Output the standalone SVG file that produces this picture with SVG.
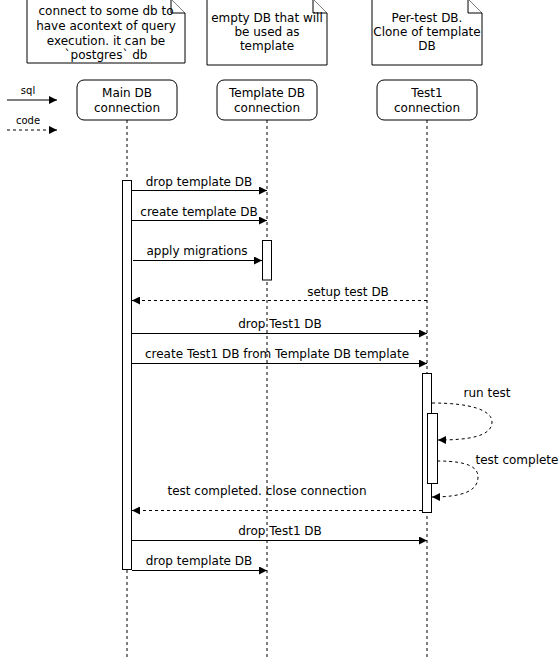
<svg xmlns="http://www.w3.org/2000/svg" width="560" height="661" viewBox="0 0 560 661">
  <style>
    text { font-family: "DejaVu Sans", Verdana, sans-serif; font-size: 12px; fill: #000; }
    .small { font-size: 10px; }
    .box { fill: #fff; stroke: #000; stroke-width: 1; }
    .life { stroke: #000; stroke-width: 1; stroke-dasharray: 3 3; fill: none; }
    .msg { stroke: #000; stroke-width: 1; fill: none; }
    .ret { stroke: #000; stroke-width: 1; fill: none; stroke-dasharray: 3 3; }
  </style>
  <defs>
    <marker id="head" viewBox="0 0 10 10" refX="10" refY="5" markerWidth="8" markerHeight="8" markerUnits="userSpaceOnUse" orient="auto">
      <path d="M0,0 L10,5 L0,10 Z" fill="#000"/>
    </marker>
  </defs>
  <rect width="560" height="661" fill="#fff"/>

  <!-- notes -->
  <g id="note-main">
    <path class="box" d="M27,-1 H171 L185,13 V63 H27 Z"/>
    <path class="box" d="M171,-1 V13 H185"/>
    <text x="106" y="15" text-anchor="middle">connect to some db to</text>
    <text x="106" y="30" text-anchor="middle">have acontext of query</text>
    <text x="106" y="45" text-anchor="middle">execution. it can be</text>
    <text x="106" y="59" text-anchor="middle">`postgres` db</text>
  </g>
  <g id="note-template">
    <path class="box" d="M207,-1 H313 L327,13 V65 H207 Z"/>
    <path class="box" d="M313,-1 V13 H327"/>
    <text x="267" y="22" text-anchor="middle">empty DB that will</text>
    <text x="267" y="36" text-anchor="middle">be used as</text>
    <text x="267" y="50" text-anchor="middle">template</text>
  </g>
  <g id="note-test1">
    <path class="box" d="M372,-1 H468 L482,13 V65 H372 Z"/>
    <path class="box" d="M468,-1 V13 H482"/>
    <text x="427" y="22" text-anchor="middle">Per-test DB.</text>
    <text x="427" y="36" text-anchor="middle">Clone of template</text>
    <text x="427" y="50" text-anchor="middle">DB</text>
  </g>

  <!-- legend -->
  <g id="legend">
    <text class="small" x="28" y="94" text-anchor="middle">sql</text>
    <line class="msg" x1="7" y1="100" x2="57" y2="100" marker-end="url(#head)"/>
    <text class="small" x="28" y="124" text-anchor="middle">code</text>
    <line class="ret" x1="7" y1="130" x2="57" y2="130" marker-end="url(#head)"/>
  </g>

  <!-- participants with lifelines -->
  <g id="main-db">
    <line class="life" x1="127" y1="120" x2="127" y2="660"/>
    <rect class="box" x="77" y="80" width="100" height="40" rx="7"/>
    <text x="127" y="97" text-anchor="middle">Main DB</text>
    <text x="127" y="112" text-anchor="middle">connection</text>
    <rect class="box" x="122.5" y="180.5" width="9" height="389"/>
  </g>
  <g id="template-db">
    <line class="life" x1="267" y1="120" x2="267" y2="660"/>
    <rect class="box" x="217" y="80" width="100" height="40" rx="7"/>
    <text x="267" y="97" text-anchor="middle">Template DB</text>
    <text x="267" y="112" text-anchor="middle">connection</text>
    <rect class="box" x="262.5" y="240.5" width="9" height="39.5"/>
  </g>
  <g id="test1">
    <line class="life" x1="427" y1="120" x2="427" y2="660"/>
    <rect class="box" x="377" y="80" width="100" height="40" rx="7"/>
    <text x="427" y="97" text-anchor="middle">Test1</text>
    <text x="427" y="112" text-anchor="middle">connection</text>
    <rect class="box" x="422.5" y="373.5" width="9" height="139"/>
    <rect class="box" x="427.5" y="413.5" width="10" height="70"/>
  </g>

  <!-- messages -->
  <g id="connectors">
    <line class="msg" x1="132" y1="190.5" x2="267" y2="190.5" marker-end="url(#head)"/>
    <text x="199" y="186" text-anchor="middle">drop template DB</text>

    <line class="msg" x1="132" y1="220.5" x2="267" y2="220.5" marker-end="url(#head)"/>
    <text x="199" y="216" text-anchor="middle">create template DB</text>

    <line class="msg" x1="133" y1="260.5" x2="262" y2="260.5" marker-end="url(#head)"/>
    <text x="197" y="255" text-anchor="middle">apply migrations</text>

    <line class="ret" x1="427" y1="300.5" x2="132" y2="300.5" marker-end="url(#head)"/>
    <text x="348" y="296" text-anchor="middle">setup test DB</text>

    <line class="msg" x1="132" y1="333.5" x2="427" y2="333.5" marker-end="url(#head)"/>
    <text x="280" y="328" text-anchor="middle">drop Test1 DB</text>

    <line class="msg" x1="132" y1="363.5" x2="427" y2="363.5" marker-end="url(#head)"/>
    <text x="277" y="358" text-anchor="middle">create Test1 DB from Template DB template</text>

    <path class="ret" d="M432,403 C470,403 492,410 492,422 C492,436 470,440 438,440" marker-end="url(#head)"/>
    <text x="487" y="397" text-anchor="middle">run test</text>

    <path class="ret" d="M437,461 C470,461 478,468 478,477 C478,490 465,497 432,497" marker-end="url(#head)"/>
    <text x="517" y="464" text-anchor="middle">test complete</text>

    <line class="ret" x1="422" y1="510.5" x2="132" y2="510.5" marker-end="url(#head)"/>
    <text x="267" y="495" text-anchor="middle">test completed. close connection</text>

    <line class="msg" x1="132" y1="540.5" x2="427" y2="540.5" marker-end="url(#head)"/>
    <text x="280" y="535" text-anchor="middle">drop Test1 DB</text>

    <line class="msg" x1="132" y1="570.5" x2="267" y2="570.5" marker-end="url(#head)"/>
    <text x="199" y="565" text-anchor="middle">drop template DB</text>
  </g>
</svg>
